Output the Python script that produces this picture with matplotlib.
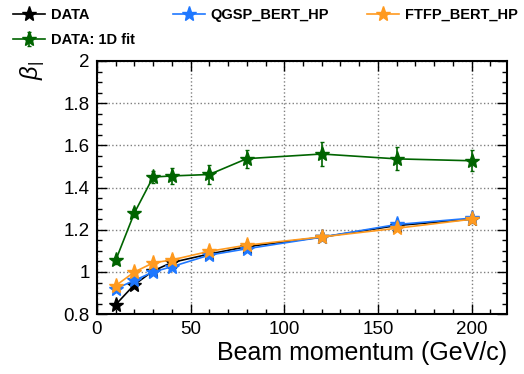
import matplotlib.pyplot as plt
import numpy as np
from matplotlib.ticker import MultipleLocator

plt.rcParams['font.family'] = ['Liberation Sans', 'DejaVu Sans']
plt.rcParams['mathtext.fontset'] = 'custom'
plt.rcParams['mathtext.rm'] = 'Liberation Sans'
plt.rcParams['mathtext.it'] = 'Liberation Sans:italic'

#%% data
momentum = [10, 20, 30, 40, 60, 80, 120, 160, 200]   # GeV/c

beta_data = [0.845, 0.94, 1.005, 1.045, 1.085, 1.12, 1.165, 1.22, 1.25]
beta_qgsp = [0.92, 0.96, 1.0, 1.025, 1.08, 1.11, 1.165, 1.225, 1.255]
beta_ftfp = [0.935, 1.0, 1.043, 1.057, 1.098, 1.127, 1.166, 1.207, 1.25]
beta_fit = [1.055, 1.28, 1.45, 1.455, 1.462, 1.537, 1.559, 1.536, 1.527]
err_fit = [0.015, 0.02, 0.028, 0.04, 0.045, 0.043, 0.059, 0.055, 0.049]

c_blue = '#1f78ff'
c_orange = '#ff9a1f'
c_green = '#006400'

#%% plotting
fig = plt.figure(figsize=(5.24, 3.74), dpi=100)
ax = fig.add_axes([0.185, 0.160, 0.783, 0.677])

ax.plot(momentum, beta_data, '-*', color='black', ms=11, lw=1.2, label='DATA')
ax.plot(momentum, beta_qgsp, '-*', color=c_blue, ms=11, lw=1.2, label='QGSP_BERT_HP')
ax.plot(momentum, beta_ftfp, '-*', color=c_orange, ms=11, lw=1.2, label='FTFP_BERT_HP')
ax.errorbar(momentum, beta_fit, yerr=err_fit, fmt='-*', color=c_green, ms=11, lw=1.2,
            elinewidth=1.2, capsize=1.5, label='DATA: 1D fit')

ax.set_xlim(0, 219)
ax.set_ylim(0.8, 2.0)
ax.xaxis.set_major_locator(MultipleLocator(50))
ax.xaxis.set_minor_locator(MultipleLocator(10))
ax.yaxis.set_major_locator(MultipleLocator(0.2))
ax.yaxis.set_minor_locator(MultipleLocator(0.05))
ax.yaxis.set_major_formatter(plt.FuncFormatter(lambda v, p: ('%.1f' % v).rstrip('0').rstrip('.')))
ax.tick_params(which='both', direction='in', top=True, right=True, labelsize=13.5)
ax.tick_params(which='major', length=7, width=1)
ax.tick_params(which='minor', length=3.5, width=1)
ax.tick_params(axis='x', pad=5)
ax.tick_params(axis='y', pad=5)
for s in ax.spines.values():
    s.set_linewidth(1.5)
ax.grid(True, which='major', ls=':', color='gray', lw=1)

ax.set_xlabel('Beam momentum (GeV/c)', fontsize=18, loc='right', labelpad=2)
ax.set_ylabel(r'$\beta_{|}$', fontsize=17, loc='top', labelpad=12)

# legend above the frame, three columns
h, l = ax.get_legend_handles_labels()
order = [0, 3, 1, 2]
fig.legend([h[i] for i in order], [l[i] for i in order], ncol=3, loc='upper left',
           bbox_to_anchor=(13 / 524, 1 - 8 / 374), frameon=False, borderpad=0,
           borderaxespad=0, prop={'weight': 'bold', 'size': 10.5}, handlelength=2.2,
           handletextpad=0.4, columnspacing=2.6, labelspacing=0.75)

plt.savefig('out.png', dpi=100)
